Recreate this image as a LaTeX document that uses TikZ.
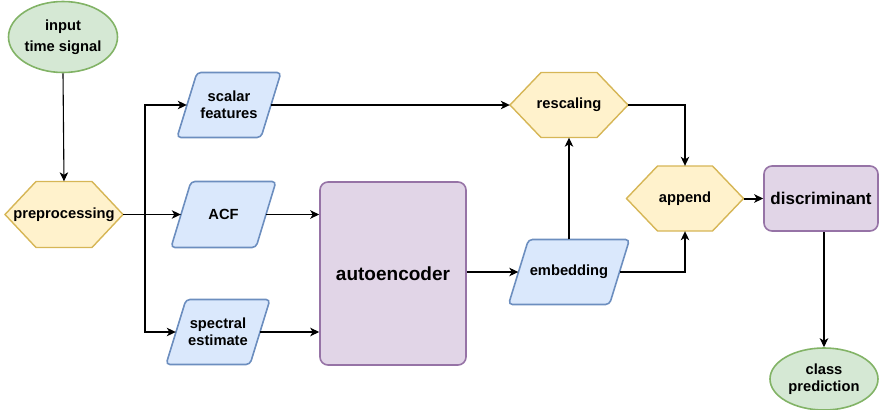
\documentclass[tikz,border=0pt]{standalone}
\usepackage{fontspec}
\setmainfont{Liberation Sans}
\usetikzlibrary{shapes.geometric,arrows.meta,calc}
\definecolor{gfill}{HTML}{D5E8D4}
\definecolor{gline}{HTML}{82B366}
\definecolor{yfill}{HTML}{FFF2CC}
\definecolor{yline}{HTML}{D6B656}
\definecolor{bfill}{HTML}{DAE8FC}
\definecolor{bline}{HTML}{6C8EBF}
\definecolor{pfill}{HTML}{E1D5E7}
\definecolor{pline}{HTML}{9673A6}
\tikzset{
  txt/.style={font=\fontsize{14.7}{17}\selectfont\bfseries, align=center},
  core/.style={rectangle, inner sep=0pt, txt},
  ell/.style={ellipse, draw=gline, fill=gfill, line width=1.6pt, inner sep=0pt, txt},
  hexst/.style={draw=yline, fill=yfill, line width=1.4pt},
  parst/.style={draw=bline, fill=bfill, line width=1.6pt, rounded corners=4pt},
  pbox/.style={rectangle, rounded corners=8pt, draw=pline, fill=pfill, line width=1.6pt, inner sep=0pt, align=center},
  arr/.style={-{Stealth[length=9pt,width=8.5pt,inset=2.5pt]}, line width=1.1pt},
  conn/.style={line width=1.1pt}
}
% name, x, y, w, h, text
\newcommand\hexnode[6]{%
  \draw[hexst] (#2-#4/2,#3) -- (#2-#4/2+31,#3-#5/2) -- (#2+#4/2-31,#3-#5/2) -- (#2+#4/2,#3) -- (#2+#4/2-31,#3+#5/2) -- (#2-#4/2+31,#3+#5/2) -- cycle;
  \node[core, minimum width=#4pt, minimum height=#5pt] (#1) at (#2,#3) {#6};}
% name, x, y, w, h, slant, text
\newcommand\paranode[7]{%
  \draw[parst] (#2-#4/2,#3+#5/2) -- (#2+#4/2-#6,#3+#5/2) -- (#2+#4/2,#3-#5/2) -- (#2-#4/2+#6,#3-#5/2) -- cycle;
  \node[core, minimum width={(#4-#6)*1pt}, minimum height=#5pt] (#1) at (#2,#3) {#7};}
\begin{document}
\begin{tikzpicture}[x=1pt,y=-1pt]
\useasboundingbox (0,0) rectangle (879,410);

\node[ell, minimum width=109pt, minimum height=71pt] (in) at (63,37) {input\\[3.5pt]time signal};
\hexnode{pre}{64}{214.5}{118}{66}{preprocessing}
\paranode{sf}{229}{105}{104}{65}{20}{scalar\\features}
\paranode{acf}{223.5}{214.5}{105}{66}{20}{ACF}
\paranode{spec}{218}{332}{104}{65}{20}{spectral\\estimate}
\node[pbox, minimum width=146pt, minimum height=183pt, font=\fontsize{19}{22}\selectfont\bfseries] (ae) at (393,273.5) {autoencoder};
\paranode{emb}{569}{272}{121}{65}{20}{embedding}
\hexnode{resc}{569}{105}{118}{65}{rescaling}
\hexnode{app}{685}{198.5}{117}{65}{append}
\node[pbox, minimum width=114pt, minimum height=65pt, font=\fontsize{17}{20}\selectfont\bfseries] (disc) at (821,198.5) {discriminant};
\node[ell, minimum width=108pt, minimum height=62pt] (cls) at (824,379) {class\\prediction};

\coordinate (br) at (145,214.5);
\draw[arr] (in.south) -- (pre.north);
\draw[conn] (pre.east) -- (br);
\draw[arr] (br) -- (acf.west);
\draw[arr] (br) |- (sf.west);
\draw[arr] (br) |- (spec.west);
\draw[arr] (acf.east) -- (acf.east -| ae.west);
\draw[arr] (spec.east) -- (spec.east -| ae.west);
\draw[arr] (ae.east |- emb.west) -- (emb.west);
\draw[arr] (sf.east) -- (resc.west);
\draw[arr] (emb.north) -- (resc.south);
\draw[arr] (resc.east) -| (app.north);
\draw[arr] (emb.east) -| (app.south);
\draw[arr, line width=2pt] (app.east) -- (disc.west);
\draw[arr] (cls.north |- disc.south) -- (cls.north);
\end{tikzpicture}
\end{document}
